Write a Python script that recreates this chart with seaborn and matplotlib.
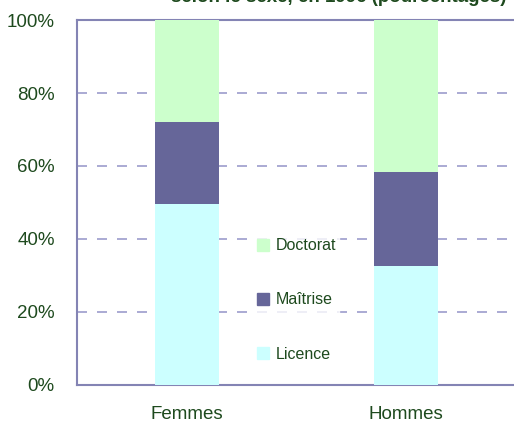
import matplotlib
matplotlib.use('Agg')
import matplotlib.pyplot as plt
import matplotlib.patches as mpatches
import pandas as pd
import seaborn as sns

# ── Données (pourcentages) ──
sexes     = ["Femmes", "Hommes"]
licence   = [49.5, 32.7]
maitrise  = [22.5, 25.6]
doctorat  = [28.0, 41.7]

niveaux = ["Licence", "Maîtrise", "Doctorat"]
couleurs = {"Licence": "#CCFFFF", "Maîtrise": "#666699", "Doctorat": "#CCFFCC"}

TEXTE = "#1E4A1E"
AXE   = "#8484B4"

df = pd.DataFrame({"sexe": sexes, "Licence": licence,
                   "Maîtrise": maitrise, "Doctorat": doctorat})
# cumul pour l'empilement
df["cum_lic"] = df["Licence"]
df["cum_mai"] = df["cum_lic"] + df["Maîtrise"]
df["cum_doc"] = df["cum_mai"] + df["Doctorat"]

sns.set_style("white")
plt.rcParams['font.family'] = ['Liberation Sans', 'DejaVu Sans']

fig = plt.figure(figsize=(5.14, 4.22), dpi=100)
ax = fig.add_axes([0.1498, 0.0877, 0.8540, 0.8649])

largeur = 0.29
for col, niv in [("cum_doc", "Doctorat"), ("cum_mai", "Maîtrise"), ("cum_lic", "Licence")]:
    sns.barplot(data=df, x="sexe", y=col, color=couleurs[niv], width=largeur,
                saturation=1, ax=ax, zorder=3, linewidth=0)

ax.set_xlim(-0.5, 1.5)
ax.set_ylim(0, 100)
ax.set_yticks([0, 20, 40, 60, 80, 100])
ax.set_yticklabels([f"{v}%" for v in range(0, 101, 20)])
ax.set_xlabel("")
ax.set_ylabel("")

# grille pointillée
for v in [20, 40, 60, 80]:
    ax.axhline(v, color="#9C9CCC", linestyle=(0, (6, 6)), linewidth=1.2, zorder=1)

for s in ["left", "bottom", "top"]:
    ax.spines[s].set_color(AXE)
    ax.spines[s].set_linewidth(1.5)
ax.spines["right"].set_visible(False)

ax.tick_params(axis="y", length=0, pad=16, labelsize=13.5, colors=TEXTE)
ax.tick_params(axis="x", length=0, pad=15, labelsize=13.5, colors=TEXTE)
ax.set_xticks([0.5], minor=True)
ax.tick_params(axis="x", which="minor", length=3, direction="inout", color=AXE)

# légende
handles = [mpatches.Patch(color=couleurs[n], label=n) for n in ["Doctorat", "Maîtrise", "Licence"]]
leg = ax.legend(handles=handles, loc="center left", bbox_to_anchor=(0.385, 0.233),
                frameon=True, fontsize=11.5, labelspacing=2.45, handlelength=0.75,
                handleheight=0.75, handletextpad=0.4, borderpad=0.2,
                labelcolor=TEXTE)
leg.get_frame().set_facecolor("white")
leg.get_frame().set_edgecolor("white")
leg.set_zorder(4)

# titre (coupé en haut dans l'original)
fig.text(0.985, 1.025, "selon le sexe, en 1996 (pourcentages)", ha="right", va="top",
         fontsize=13.5, fontweight="bold", color=TEXTE)

fig.savefig("out.png", dpi=100)
